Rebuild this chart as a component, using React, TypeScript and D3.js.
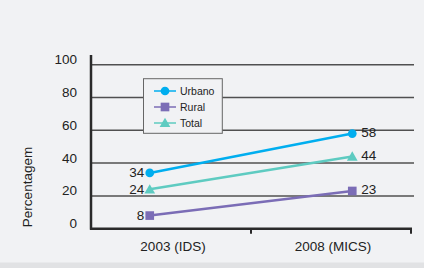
import React from "react";
import * as d3 from "d3";

const categories = ["2003 (IDS)", "2008 (MICS)"];
const seriesNames = ["Urbano", "Rural", "Total"];
const urbano = [34, 58];
const rural = [8, 23];
const total = [24, 44];
const yTicks = [0, 20, 40, 60, 80, 100];

const colors: Record<string, string> = { Urbano: "#00aeef", Rural: "#7b6db6", Total: "#5ecbc1" };
const symbols: Record<string, d3.SymbolType> = {
  Urbano: d3.symbolCircle,
  Rural: d3.symbolSquare,
  Total: d3.symbolTriangle,
};
const symSize: Record<string, number> = { Urbano: 60, Rural: 75, Total: 50 };

export default function App() {
  const W = 424, H = 268;
  const left = 91, right = 411, top = 64.7, bottom = 228.7;
  const font = "Liberation Sans, Arial, sans-serif";
  const y = d3.scaleLinear().domain([0, 100]).range([bottom, top]);
  const xBand = d3.scaleBand().domain(categories).range([left, right]);
  const xPt = d3.scalePoint().domain(categories).range([left, right]).padding(0.29);
  const data: Record<string, number[]> = { Urbano: urbano, Rural: rural, Total: total };
  const line = d3
    .line<number>()
    .x((_, i) => xPt(categories[i]) as number)
    .y((d) => y(d));

  return (
    <svg width={W} height={H} style={{ position: "absolute", left: 0, top: 0 }}>
      <rect x={0} y={0} width={W} height={H} fill="#f1f2f4" />
      <rect x={0} y={262.5} width={W} height={H - 262.5} fill="#e1e2e4" />
      {yTicks.filter((t) => t > 0).map((t) => (
        <line key={t} x1={left} x2={414} y1={y(t)} y2={y(t)} stroke="#505050" strokeWidth={1.5} />
      ))}
      {yTicks.map((t) => (
        <text key={"l" + t} x={77} y={y(t) - 5} textAnchor="end" dominantBaseline="central"
          fontFamily={font} fontSize={13.5} fill="#222">{t}</text>
      ))}
      <text transform={`translate(27,187) rotate(-90)`} textAnchor="middle" dominantBaseline="central"
        fontFamily={font} fontSize={13.5} fill="#222">Percentagem</text>
      {/* axes */}
      <line x1={left} x2={left} y1={55} y2={bottom + 1} stroke="#2a2a2a" strokeWidth={2.5} />
      <line x1={left - 1} x2={right + 1} y1={bottom} y2={bottom} stroke="#2a2a2a" strokeWidth={2.5} />
      {[xBand.step() + left, right].map((xx, i) => (
        <line key={"t" + i} x1={xx} x2={xx} y1={bottom} y2={bottom + 5} stroke="#2a2a2a" strokeWidth={2} />
      ))}
      {categories.map((c) => (
        <text key={c} x={(xBand(c) as number) + xBand.bandwidth() / 2 + 2} y={246.5} textAnchor="middle"
          dominantBaseline="central" fontFamily={font} fontSize={13.5} fill="#222">{c}</text>
      ))}
      {/* legend */}
      <rect x={143.5} y={78.7} width={78.8} height={54.6} fill="#f1f2f4" stroke="#666" strokeWidth={1} />
      {seriesNames.map((s, i) => {
        const ly = 91 + i * 16;
        return (
          <g key={"lg" + s}>
            <line x1={154} x2={176} y1={ly} y2={ly} stroke={colors[s]} strokeWidth={1.5} />
            <path d={d3.symbol(symbols[s], symSize[s])() as string} transform={`translate(165,${ly + (s === "Total" ? 1 : 0)})`} fill={colors[s]} />
            <text x={180} y={ly} dominantBaseline="central" fontFamily={font} fontSize={10.5} fill="#222">{s}</text>
          </g>
        );
      })}
      {/* series */}
      {seriesNames.map((s) => (
        <g key={"s" + s}>
          <path d={line(data[s]) as string} fill="none" stroke={colors[s]} strokeWidth={2.5} />
          {data[s].map((v, i) => (
            <path key={i} d={d3.symbol(symbols[s], symSize[s])() as string}
              transform={`translate(${xPt(categories[i])},${y(v) + (s === "Total" ? 1 : 0)})`} fill={colors[s]} />
          ))}
          {data[s].map((v, i) => (
            <text key={"v" + i} x={(xPt(categories[i]) as number) + (i === 0 ? -5.5 : 9)} y={y(v) - (i === 0 ? 0 : 1)}
              textAnchor={i === 0 ? "end" : "start"} dominantBaseline="central" fontFamily={font} fontSize={13.5} fill="#222">{v}</text>
          ))}
        </g>
      ))}
    </svg>
  );
}
